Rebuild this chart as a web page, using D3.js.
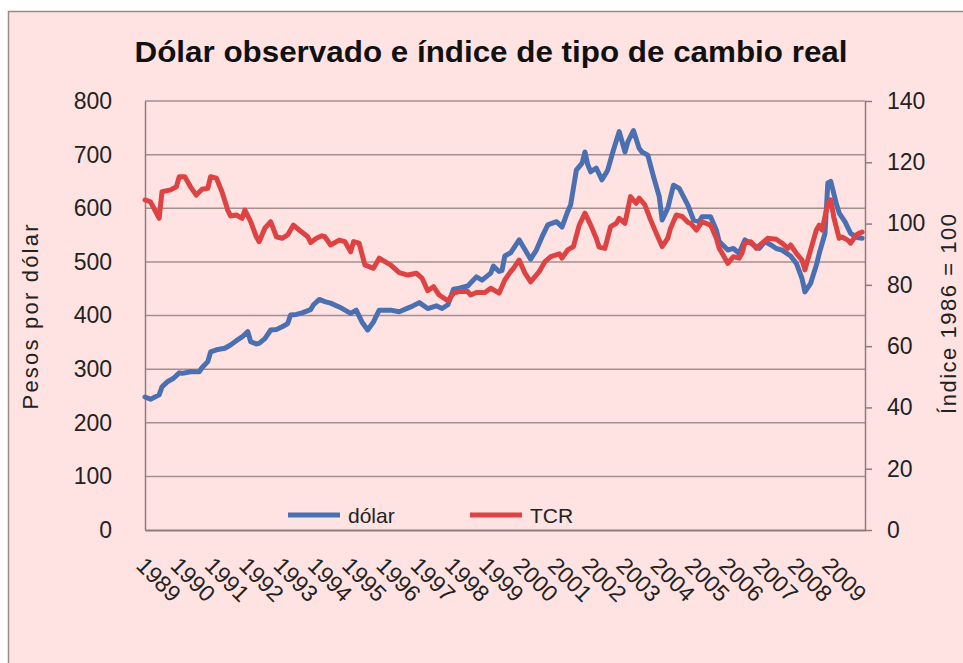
<!DOCTYPE html>
<html><head><meta charset="utf-8">
<script src="https://cdn.jsdelivr.net/npm/d3@7"></script>
<style>body{margin:0;background:#fff}svg{display:block}</style>
</head><body><svg id="c" width="963" height="663"></svg>
<script>
const titleText = "Dólar observado e índice de tipo de cambio real";
const leftAxisTitle = "Pesos por dólar";
const rightAxisTitle = "Índice 1986 = 100";
const seriesNames = ["dólar", "TCR"];
const yearLabels = ["1989","1990","1991","1992","1993","1994","1995","1996","1997","1998","1999","2000","2001","2002","2003","2004","2005","2006","2007","2008","2009"];
const leftTicks = [0,100,200,300,400,500,600,700,800];
const rightTicks = [0,20,40,60,80,100,120,140];

const dolarMonths = ["1989-01","1989-03","1989-06","1989-07","1989-09","1989-11","1990-01","1990-02","1990-05","1990-08","1990-09","1990-11","1990-12","1991-02","1991-05","1991-07","1991-09","1991-11","1992-01","1992-02","1992-04","1992-05","1992-07","1992-09","1992-11","1993-01","1993-03","1993-04","1993-06","1993-08","1993-11","1993-12","1994-02","1994-04","1994-06","1994-09","1995-01","1995-03","1995-05","1995-07","1995-09","1995-11","1996-03","1996-06","1996-10","1997-01","1997-04","1997-07","1997-09","1997-11","1998-01","1998-03","1998-06","1998-09","1998-11","1999-02","1999-03","1999-05","1999-06","1999-07","1999-09","1999-12","2000-01","2000-04","2000-06","2000-08","2000-10","2001-01","2001-03","2001-05","2001-06","2001-08","2001-10","2001-11","2001-12","2002-01","2002-03","2002-05","2002-07","2002-09","2002-11","2003-01","2003-02","2003-04","2003-06","2003-07","2003-09","2003-11","2004-01","2004-02","2004-04","2004-06","2004-08","2004-11","2005-01","2005-03","2005-04","2005-07","2005-09","2005-10","2006-01","2006-03","2006-05","2006-07","2006-09","2006-12","2007-02","2007-04","2007-06","2007-08","2007-11","2008-01","2008-03","2008-04","2008-06","2008-08","2008-09","2008-11","2008-12","2009-01","2009-03","2009-04","2009-06","2009-08","2009-10","2009-12"];
const dolarValues = [248,244,252,267,277,283,293,292,295,295,303,314,332,336,339,345,353,360,370,351,347,348,357,373,374,379,385,401,402,405,411,420,430,426,423,416,404,410,388,373,388,410,410,407,416,424,413,418,413,420,449,451,455,472,466,479,492,482,484,511,517,541,532,505,522,547,569,575,565,594,606,671,684,705,681,668,675,653,671,709,743,705,724,745,712,705,699,659,622,578,600,643,637,606,578,575,584,584,559,538,522,525,516,541,535,525,538,532,525,522,511,497,469,444,460,494,516,553,647,650,609,591,575,553,546,544];

const tcrMonths = ["1989-01","1989-03","1989-06","1989-07","1989-10","1989-12","1990-01","1990-03","1990-05","1990-07","1990-09","1990-11","1990-12","1991-02","1991-04","1991-06","1991-07","1991-09","1991-11","1991-12","1992-02","1992-04","1992-05","1992-07","1992-09","1992-11","1993-01","1993-03","1993-05","1993-07","1993-10","1993-11","1994-01","1994-03","1994-04","1994-06","1994-09","1994-11","1995-01","1995-02","1995-04","1995-06","1995-09","1995-11","1996-02","1996-03","1996-06","1996-09","1996-12","1997-02","1997-04","1997-06","1997-08","1997-11","1998-01","1998-03","1998-06","1998-07","1998-09","1998-12","1999-02","1999-05","1999-07","1999-09","1999-10","1999-12","2000-02","2000-04","2000-07","2000-09","2000-11","2001-02","2001-03","2001-05","2001-07","2001-09","2001-11","2002-01","2002-03","2002-04","2002-06","2002-08","2002-10","2002-11","2003-01","2003-03","2003-05","2003-06","2003-08","2003-10","2003-12","2004-02","2004-04","2004-05","2004-07","2004-09","2004-11","2004-12","2005-02","2005-04","2005-07","2005-09","2005-10","2005-11","2006-01","2006-03","2006-05","2006-06","2006-07","2006-09","2006-11","2007-01","2007-03","2007-06","2007-08","2007-10","2007-11","2008-01","2008-03","2008-04","2008-06","2008-08","2008-09","2008-10","2008-12","2009-01","2009-02","2009-04","2009-05","2009-07","2009-08","2009-10","2009-11","2009-12"];
const tcrValues = [107.7,107.1,101.7,110.4,111.0,112.0,115.3,115.3,112.0,109.3,111.2,111.5,115.3,114.8,110.4,104.4,102.5,102.8,101.7,104.4,100.6,95.7,94.1,98.5,100.6,95.7,95.2,96.3,99.5,97.9,95.7,93.8,95.2,96.0,95.7,93.0,94.6,94.1,90.8,94.1,93.6,86.5,85.4,88.7,87.0,86.5,84.0,83.2,83.8,82.1,78.1,79.4,76.7,74.8,77.3,77.8,77.8,76.7,77.5,77.5,78.9,77.3,81.6,84.3,85.4,88.1,83.8,81.0,84.3,87.6,89.2,90.1,88.7,91.4,92.5,99.5,103.4,99.5,95.2,92.3,91.9,99.0,100.1,101.7,100.1,108.8,106.6,108.3,106.1,101.2,96.8,92.5,95.2,98.5,102.8,102.3,100.4,100.1,97.9,100.6,99.5,95.2,91.9,90.3,87.0,89.2,88.7,90.3,93.6,94.1,91.9,93.6,95.2,94.9,93.6,91.9,93.0,90.3,88.1,84.9,91.4,97.9,99.5,97.9,106.6,107.7,102.3,95.2,95.6,94.6,93.6,96.3,96.9,97.2];

const colors = {bg:"#FFE3E3", grid:"#A38F8F", axis:"#8E7C7C", dolar:"#4A70B2", tcr:"#DD4343", text:"#111"};
const font = "'Liberation Sans', Arial, sans-serif";

const svg = d3.select("#c");
const W = 963, H = 663;
const plot = {l:145, r:865, t:101, b:530};

svg.append("rect").attr("x",0).attr("y",0).attr("width",W).attr("height",H).attr("fill","#fff");
svg.append("rect").attr("x",8.5).attr("y",11.5).attr("width",W).attr("height",H)
  .attr("fill",colors.bg).attr("stroke","#9a8a8a").attr("stroke-width",1.5);

const parse = d3.timeParse("%Y-%m");
const x = d3.scaleTime().domain([new Date(1989,0,1), new Date(2010,0,1)]).range([plot.l, plot.r]);
const yL = d3.scaleLinear().domain([0,800]).range([plot.b, plot.t]);
const yR = d3.scaleLinear().domain([0,140]).range([plot.b, plot.t]);

// gridlines
svg.append("g").selectAll("line").data(leftTicks.filter(d=>d>0)).join("line")
  .attr("x1",plot.l).attr("x2",plot.r).attr("y1",d=>yL(d)).attr("y2",d=>yL(d))
  .attr("stroke",colors.grid).attr("stroke-width",1.5);

// left axis
const gL = svg.append("g").attr("transform",`translate(${plot.l},0)`)
  .call(d3.axisLeft(yL).tickValues(leftTicks).tickSize(0).tickPadding(33));
gL.select(".domain").attr("stroke",colors.axis).attr("stroke-width",1.5);
gL.selectAll("text").attr("font-family",font).attr("font-size",23).attr("fill","#222");

// right axis
const gR = svg.append("g").attr("transform",`translate(${plot.r},0)`)
  .call(d3.axisRight(yR).tickValues(rightTicks).tickSize(7).tickPadding(15).tickSizeOuter(0));
gR.select(".domain").attr("stroke",colors.axis).attr("stroke-width",1.5);
gR.selectAll("line").attr("stroke",colors.axis).attr("stroke-width",1.5);
gR.selectAll("text").attr("font-family",font).attr("font-size",23).attr("fill","#222");

// bottom axis
const gB = svg.append("g").attr("transform",`translate(0,${plot.b})`)
  .call(d3.axisBottom(x).tickValues(yearLabels.map(y=>new Date(+y,0,1))).tickSize(0).tickFormat(""));
gB.select(".domain").attr("stroke",colors.axis).attr("stroke-width",2);

svg.append("g").selectAll("text").data(yearLabels).join("text")
  .attr("transform",d=>`translate(${x(new Date(+d,0,1))-10},${567}) rotate(45)`)
  .attr("font-family",font).attr("font-size",23).attr("fill","#222")
  .text(d=>d);

// lines
const dolarData = dolarMonths.map((m,i)=>({d:parse(m), v:dolarValues[i]}));
const tcrData = tcrMonths.map((m,i)=>({d:parse(m), v:tcrValues[i]}));
svg.append("path").datum(dolarData)
  .attr("d", d3.line().x(p=>x(p.d)).y(p=>yL(p.v)))
  .attr("fill","none").attr("stroke",colors.dolar).attr("stroke-width",5).attr("stroke-linejoin","round").attr("stroke-linecap","round");
svg.append("path").datum(tcrData)
  .attr("d", d3.line().x(p=>x(p.d)).y(p=>yR(p.v)))
  .attr("fill","none").attr("stroke",colors.tcr).attr("stroke-width",5).attr("stroke-linejoin","round").attr("stroke-linecap","round");

// title
svg.append("text").attr("x",491).attr("y",62).attr("text-anchor","middle")
  .attr("font-family",font).attr("font-weight","bold").attr("font-size",29)
  .attr("textLength",713).attr("lengthAdjust","spacingAndGlyphs")
  .attr("fill",colors.text).text(titleText);

// axis titles
svg.append("text").attr("transform","translate(38,317) rotate(-90)").attr("text-anchor","middle")
  .attr("font-family",font).attr("font-size",22).attr("fill","#222")
  .attr("textLength",185).attr("lengthAdjust","spacing").text(leftAxisTitle);
svg.append("text").attr("transform","translate(956,314) rotate(-90)").attr("text-anchor","middle")
  .attr("font-family",font).attr("font-size",22).attr("fill","#222")
  .attr("textLength",200).attr("lengthAdjust","spacing").text(rightAxisTitle);

// legend
const legend = [{name:seriesNames[0], c:colors.dolar, x:288}, {name:seriesNames[1], c:colors.tcr, x:470}];
const lg = svg.append("g").selectAll("g").data(legend).join("g");
lg.append("line").attr("x1",d=>d.x).attr("x2",d=>d.x+52).attr("y1",515).attr("y2",515)
  .attr("stroke",d=>d.c).attr("stroke-width",5);
lg.append("text").attr("x",d=>d.x+60).attr("y",523).attr("font-family",font).attr("font-size",21)
  .attr("fill","#222").text(d=>d.name);
</script></body></html>
